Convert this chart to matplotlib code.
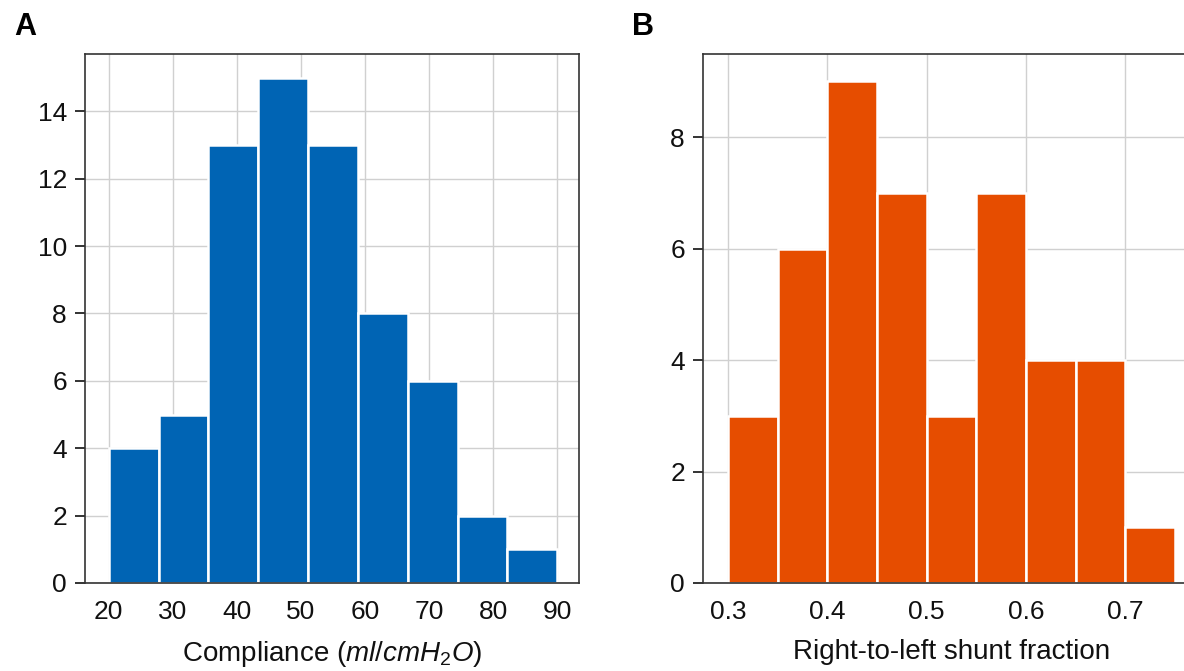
import numpy as np
import matplotlib
matplotlib.use("Agg")
import matplotlib.pyplot as plt

plt.rcParams['font.family'] = ['Liberation Sans', 'DejaVu Sans']
plt.rcParams['mathtext.fontset'] = 'custom'
plt.rcParams['mathtext.rm'] = 'Liberation Sans'
plt.rcParams['mathtext.it'] = 'Liberation Sans:italic'

# Panel A: compliance histogram
compliance_edges_range = (20, 90)
compliance_counts = [4, 5, 13, 15, 13, 8, 6, 2, 1]
compliance_ticks = [20, 30, 40, 50, 60, 70, 80, 90]
compliance_yticks = [0, 2, 4, 6, 8, 10, 12, 14]

# Panel B: shunt fraction histogram
shunt_edges_range = (0.30, 0.75)
shunt_counts = [3, 6, 9, 7, 3, 7, 4, 4, 1]
shunt_ticks = [0.3, 0.4, 0.5, 0.6, 0.7]
shunt_yticks = [0, 2, 4, 6, 8]

blue = '#0064b4'
orange = '#e64d00'

fig = plt.figure(figsize=(11.84, 6.71), dpi=100)
axA = fig.add_axes([85/1184, 88/671, 494/1184, 529/671])
axB = fig.add_axes([703/1184, 88/671, 497/1184, 529/671])


def draw(ax, rng, counts, color, xticks, yticks, xlim, ylim, xlabel, fmt):
    edges = np.linspace(rng[0], rng[1], len(counts) + 1)
    ax.bar(edges[:-1], counts, width=np.diff(edges), align='edge',
           color=color, edgecolor='white', linewidth=1.8, zorder=2)
    ax.set_xlim(*xlim)
    ax.set_ylim(*ylim)
    ax.set_xticks(xticks)
    ax.set_xticklabels([fmt(t) for t in xticks])
    ax.set_yticks(yticks)
    ax.set_axisbelow(True)
    ax.grid(True, color='#d0d0d0', linewidth=1.0, zorder=0)
    ax.tick_params(axis='y', direction='out', length=7, width=1.2, labelsize=19, pad=6, colors='#111111')
    ax.tick_params(axis='x', direction='out', length=0, labelsize=19, pad=12, colors='#111111')
    for s in ax.spines.values():
        s.set_color('#333333')
        s.set_linewidth(1.2)
    ax.set_xlabel(xlabel, fontsize=20, labelpad=11, color='#111111')


draw(axA, compliance_edges_range, compliance_counts, blue, compliance_ticks,
     compliance_yticks, (16.3, 93.4), (0, 15.7),
     r'Compliance ($ml/cmH_2O$)', lambda t: f'{t:d}')
draw(axB, shunt_edges_range, shunt_counts, orange, shunt_ticks,
     shunt_yticks, (0.275, 0.775), (0, 9.49),
     'Right-to-left shunt fraction', lambda t: f'{t:.1f}')

fig.text(14/1184, 1 - 27/671, 'A', fontsize=22, fontweight='bold', va='center', ha='left')
fig.text(632/1184, 1 - 27/671, 'B', fontsize=22, fontweight='bold', va='center', ha='left')

fig.savefig('out.png', dpi=100)
